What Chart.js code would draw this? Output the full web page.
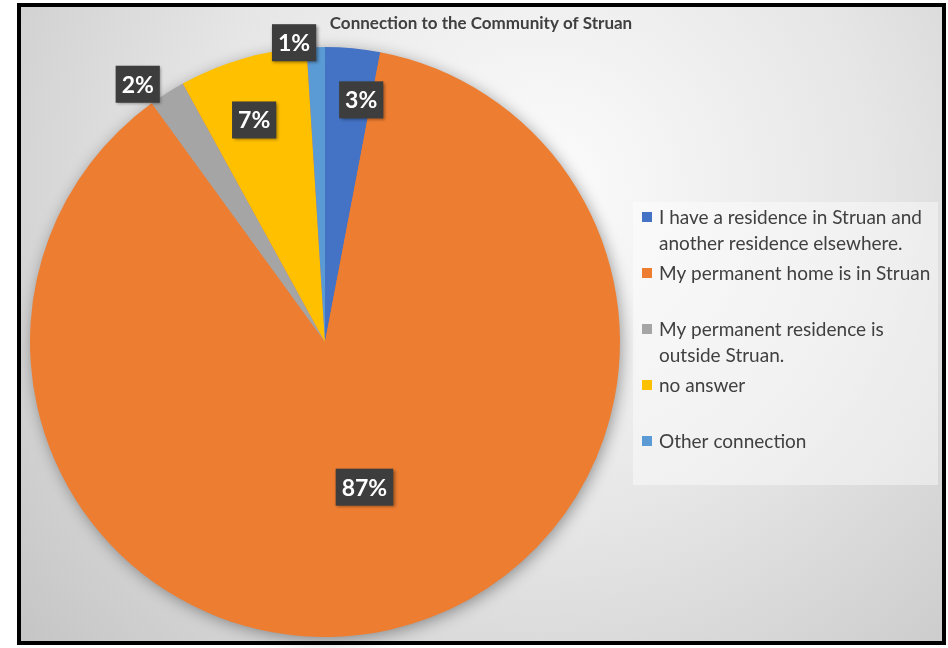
<!DOCTYPE html>
<html>
<head>
<meta charset="utf-8">
<script src="https://cdn.jsdelivr.net/npm/chart.js@4.4.1/dist/chart.umd.min.js"></script>
<style>
    html, body { margin: 0; padding: 0; background: #fff; }
    #wrap { width: 948px; height: 648px; }
</style>
</head>
<body>
<div id="wrap"><canvas id="pieChart" width="948" height="648"></canvas></div>
<script>
const chartTitle = 'Connection to the Community of Struan';
const categories = [
    ['I have a residence in Struan and', 'another residence elsewhere.'],
    ['My permanent home is in Struan'],
    ['My permanent residence is', 'outside Struan.'],
    ['no answer'],
    ['Other connection']
];
const shares = [3, 87, 2, 7, 1]; // percent
const sliceColors = ['#4472C4', '#ED7D31', '#A5A5A5', '#FFC000', '#5B9BD5'];

// value boxes: degrees off the slice middle, distance as part of the radius
const labelSpots = [
    { turn: 3.1, dist: 0.83 },
    { turn: -2.6, dist: 0.51 },
    { turn: -3.6, dist: 1.08 },
    { turn: -1.5, dist: 0.79 },
    { turn: -4.1, dist: 1.02 }
];

// grey gradient panel with black frame
const backdrop = {
    id: 'backdrop',
    beforeDraw(chart) {
        const ctx = chart.ctx;
        ctx.save();
        ctx.fillStyle = '#fff';
        ctx.fillRect(0, 0, chart.width, chart.height);
        const g = ctx.createRadialGradient(540, 190, 20, 540, 190, 720);
        g.addColorStop(0, '#fbfbfb');
        g.addColorStop(0.45, '#e6e6e6');
        g.addColorStop(1, '#c2c2c2');
        ctx.fillStyle = g;
        ctx.fillRect(21, 7, 921, 634);
        ctx.strokeStyle = '#000';
        ctx.lineWidth = 4;
        ctx.strokeRect(19, 5, 925, 638);
        ctx.restore();
    }
};

// soft shadow under the whole pie
const pieShadow = {
    id: 'pieShadow',
    beforeDatasetsDraw(chart) {
        const arc = chart.getDatasetMeta(0).data[0];
        if (!arc) return;
        const ctx = chart.ctx;
        ctx.save();
        ctx.shadowColor = 'rgba(0,0,0,0.4)';
        ctx.shadowBlur = 16;
        ctx.shadowOffsetX = 2;
        ctx.shadowOffsetY = 3;
        ctx.fillStyle = '#ED7D31';
        ctx.beginPath();
        ctx.arc(arc.x, arc.y, arc.outerRadius - 1, 0, Math.PI * 2);
        ctx.fill();
        ctx.restore();
    }
};

// dark value boxes with white percent text
const valueBoxes = {
    id: 'valueBoxes',
    afterDatasetsDraw(chart) {
        const ctx = chart.ctx;
        const values = chart.data.datasets[0].data;
        ctx.save();
        ctx.font = 'bold 23px Lato';
        ctx.textAlign = 'center';
        ctx.textBaseline = 'middle';
        chart.getDatasetMeta(0).data.forEach((arc, i) => {
            const spot = labelSpots[i];
            const a = (arc.startAngle + arc.endAngle) / 2 + spot.turn * Math.PI / 180;
            const r = arc.outerRadius * spot.dist;
            const x = arc.x + Math.cos(a) * r;
            const y = arc.y + Math.sin(a) * r;
            const text = values[i] + '%';
            const w = ctx.measureText(text).width + 12;
            const h = 37;
            ctx.shadowColor = 'rgba(0,0,0,0.4)';
            ctx.shadowBlur = 3;
            ctx.shadowOffsetX = 1.5;
            ctx.shadowOffsetY = 1.5;
            ctx.fillStyle = '#3d3d3d';
            ctx.fillRect(x - w / 2, y - h / 2, w, h);
            ctx.shadowColor = 'transparent';
            ctx.fillStyle = '#fff';
            ctx.fillText(text, x, y + 1);
        });
        ctx.restore();
    }
};

// title and legend panel on the right
const sideText = {
    id: 'sideText',
    afterDraw(chart) {
        const ctx = chart.ctx;
        const colors = chart.data.datasets[0].backgroundColor;
        ctx.save();
        ctx.fillStyle = '#404040';
        ctx.font = 'bold 17px Lato';
        ctx.textAlign = 'center';
        ctx.textBaseline = 'alphabetic';
        ctx.fillText(chartTitle, 481, 29);

        ctx.fillStyle = 'rgba(255,255,255,0.42)';
        ctx.fillRect(633, 202, 305, 283);

        ctx.font = '19px Lato';
        ctx.textAlign = 'left';
        chart.data.labels.forEach((lines, i) => {
            const base = 224 + i * 56;
            ctx.fillStyle = colors[i];
            ctx.fillRect(642, base - 12, 10, 10);
            ctx.fillStyle = '#404040';
            lines.forEach((line, k) => ctx.fillText(line, 659, base + k * 26));
        });
        ctx.restore();
    }
};

new Chart(document.getElementById('pieChart').getContext('2d'), {
    type: 'pie',
    data: {
        labels: categories,
        datasets: [{
            data: shares,
            backgroundColor: sliceColors,
            borderWidth: 0,
            hoverOffset: 0
        }]
    },
    options: {
        responsive: false,
        animation: false,
        devicePixelRatio: 1,
        layout: { padding: { left: 30, right: 328, top: 47, bottom: 11 } },
        plugins: {
            legend: { display: false },
            title: { display: false },
            tooltip: { enabled: false }
        }
    },
    plugins: [backdrop, pieShadow, valueBoxes, sideText]
});
</script>
</body>
</html>
